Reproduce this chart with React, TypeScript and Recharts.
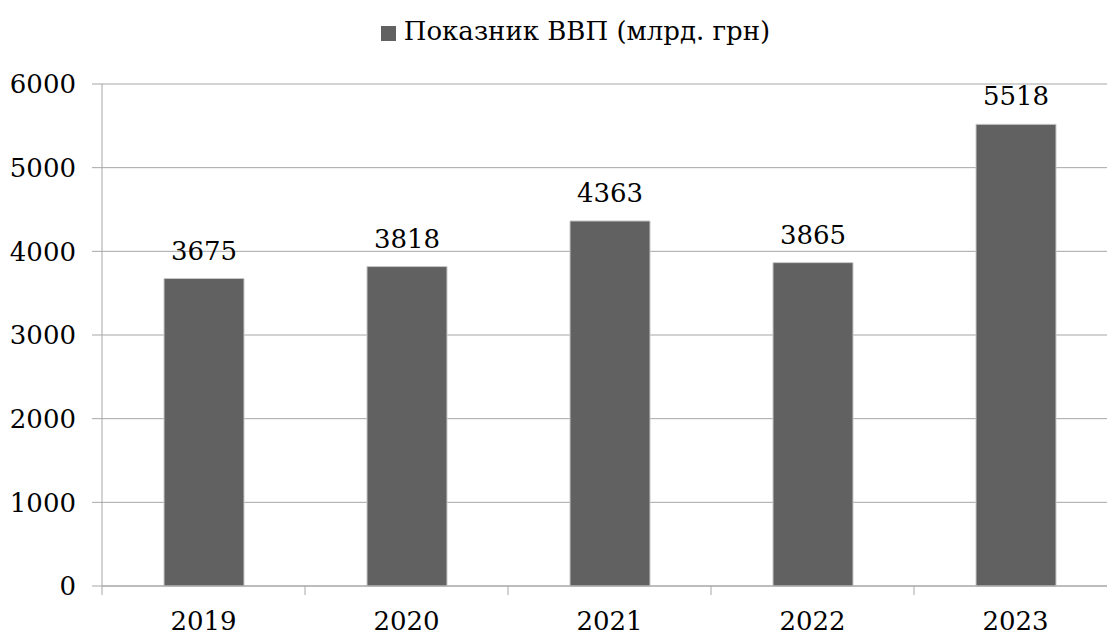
import { BarChart, Bar, XAxis, YAxis, CartesianGrid, Legend, LabelList } from "recharts"

const years = ["2019", "2020", "2021", "2022", "2023"]
const gdp = [3675, 3818, 4363, 3865, 5518]
const yTicks = [0, 1000, 2000, 3000, 4000, 5000, 6000]
const seriesName = "Показник ВВП (млрд. грн)"

const data = years.map((year, i) => ({ year, gdp: gdp[i] }))

const FONT = "'DejaVu Serif', serif"
const SIZE = 26
const GRID = "#a6a6a6"
const X_MARGIN = 26
const X_TICK = 9

// year label plus the small tick mark on the left edge of its band
function YearTick(props: any) {
    const { x, y, payload, index, visibleTicksCount } = props
    const half = payload.offset || 0
    const axisY = y - X_MARGIN
    const isLast = index === visibleTicksCount - 1
    return (
        <g>
            <line x1={x - half} x2={x - half} y1={axisY} y2={axisY + X_TICK} stroke={GRID} />
            {isLast && <line x1={x + half} x2={x + half} y1={axisY} y2={axisY + X_TICK} stroke={GRID} />}
            <text x={x} y={y} dy="0.71em" textAnchor="middle" fill="#000" fontSize={SIZE} fontFamily={FONT}>
                {payload.value}
            </text>
        </g>
    )
}

export default function App() {
    return (
        <div style={{ position: "fixed", left: 0, top: 0, width: 1107, height: 635, overflow: "hidden", background: "#fff", fontFamily: FONT }}>
            <BarChart
                width={1117}
                height={635}
                data={data}
                margin={{ top: 16, right: 0, left: 0, bottom: 0 }}
                style={{ fontFamily: FONT }}
            >
                <CartesianGrid vertical={false} stroke={GRID} />
                <XAxis
                    dataKey="year"
                    height={49}
                    tickLine={false}
                    tickSize={0}
                    tickMargin={X_MARGIN}
                    axisLine={{ stroke: GRID }}
                    tick={<YearTick />}
                />
                <YAxis
                    width={102}
                    domain={[0, 6000]}
                    ticks={yTicks}
                    tickSize={10}
                    tickMargin={16}
                    tickLine={{ stroke: GRID }}
                    axisLine={{ stroke: GRID }}
                    tick={{ fill: "#000", fontSize: SIZE, fontFamily: FONT }}
                />
                <Legend
                    verticalAlign="top"
                    iconType="square"
                    iconSize={15}
                    wrapperStyle={{ height: 68, left: 22, fontSize: SIZE, fontFamily: FONT }}
                    formatter={(value) => <span style={{ color: "#000", fontFamily: FONT, marginLeft: 4 }}>{value}</span>}
                />
                <Bar
                    dataKey="gdp"
                    name={seriesName}
                    fill="#616161"
                    stroke="#c8c8c8"
                    strokeWidth={1}
                    barSize={80}
                    isAnimationActive={false}
                >
                    <LabelList dataKey="gdp" position="top" offset={19} fill="#000" fontSize={SIZE} fontFamily={FONT} />
                </Bar>
            </BarChart>
        </div>
    )
}
